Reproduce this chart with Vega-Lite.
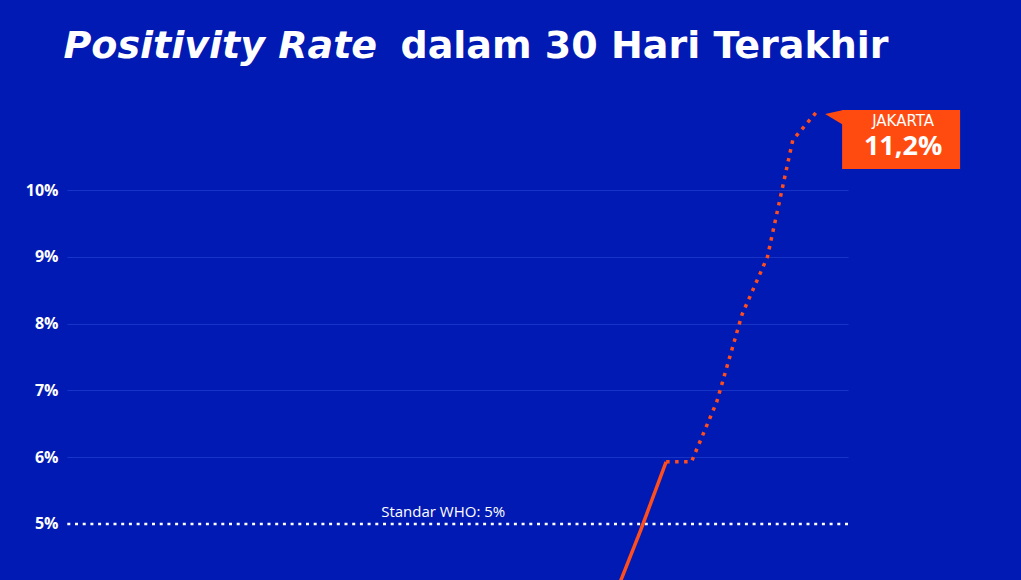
{
  "$schema": "https://vega.github.io/schema/vega-lite/v6.json",
  "width": 781,
  "height": 490,
  "autosize": {"type": "none"},
  "padding": {"left": 67, "top": 90, "right": 173, "bottom": 0},
  "background": "#011AB4",
  "config": {"view": {"stroke": null}, "font": "Open Sans"},
  "datasets": {
    "series": [
      {"day": 22, "v": 3.95, "part": "solid"},
      {"day": 23, "v": 4.91, "part": "solid"},
      {"day": 24, "v": 5.93, "part": "solid"},
      {"day": 24, "v": 5.93, "part": "dotted"},
      {"day": 25, "v": 5.93, "part": "dotted"},
      {"day": 26, "v": 6.83, "part": "dotted"},
      {"day": 27, "v": 8.14, "part": "dotted"},
      {"day": 28, "v": 9.0, "part": "dotted"},
      {"day": 29, "v": 10.75, "part": "dotted"},
      {"day": 30, "v": 11.2, "part": "dotted"}
    ],
    "who": [{"v": 5, "label": "Standar WHO: 5%"}],
    "last": [{"day": 30, "v": 11.2, "city": "JAKARTA", "label": "11,2%"}]
  },
  "layer": [
    {
      "data": {"name": "who"},
      "mark": {"type": "rule", "color": "white", "strokeWidth": 2.5, "strokeDash": [3, 4.7], "strokeCap": "butt"},
      "encoding": {
        "y": {
          "field": "v",
          "type": "quantitative",
          "scale": {"domain": [4.16, 11.5], "nice": false, "zero": false},
          "axis": {
            "values": [5, 6, 7, 8, 9, 10],
            "labelExpr": "datum.value + '%'",
            "labelFontSize": 16,
            "labelFontWeight": "bold",
            "labelColor": "white",
            "labelPadding": 9,
            "ticks": false,
            "domain": false,
            "gridColor": "#1634C6",
            "gridWidth": 1,
            "gridOpacity": {"condition": {"test": "datum.value === 5", "value": 0}, "value": 1},
            "title": "Positivity Rate",
            "titleFont": "DejaVu Sans",
            "titleAngle": 0,
            "titleX": -4,
            "titleY": -33,
            "titleAlign": "left",
            "titleBaseline": "alphabetic",
            "titleFontSize": 38,
            "titleFontStyle": "italic",
            "titleFontWeight": "bold",
            "titleColor": "white"
          }
        }
      }
    },
    {
      "data": {"name": "who"},
      "mark": {"type": "text", "color": "white", "fontSize": 15, "align": "center", "baseline": "alphabetic", "yOffset": -7},
      "encoding": {
        "x": {"datum": 15.2, "type": "quantitative"},
        "y": {"field": "v", "type": "quantitative"},
        "text": {"field": "label"}
      }
    },
    {
      "data": {"name": "series"},
      "mark": {"type": "line", "color": "#FF4E1C", "strokeWidth": 3.5, "strokeCap": "butt", "clip": true},
      "encoding": {
        "x": {
          "field": "day",
          "type": "quantitative",
          "scale": {"domain": [0.35, 31.18], "nice": false, "zero": false},
          "axis": {
            "orient": "top",
            "labels": false,
            "ticks": false,
            "domain": false,
            "grid": false,
            "title": "dalam 30 Hari Terakhir",
            "titleFont": "DejaVu Sans",
            "titleX": 333,
            "titleY": -33,
            "titleAlign": "left",
            "titleBaseline": "alphabetic",
            "titleFontSize": 38,
            "titleFontWeight": "bold",
            "titleColor": "white"
          }
        },
        "y": {"field": "v", "type": "quantitative"},
        "detail": {"field": "part"},
        "strokeDash": {
          "field": "part",
          "type": "nominal",
          "scale": {"domain": ["solid", "dotted"], "range": [[1, 0], [3.5, 5.5]]},
          "legend": null
        }
      }
    },
    {
      "data": {"name": "last"},
      "mark": {"type": "rect", "color": "#FF4B10", "xOffset": 24, "x2Offset": 142, "yOffset": 0, "y2Offset": 59},
      "encoding": {
        "x": {"field": "day", "type": "quantitative"},
        "x2": {"field": "day"},
        "y": {"field": "v", "type": "quantitative"},
        "y2": {"field": "v"}
      }
    },
    {
      "data": {"name": "last"},
      "mark": {"type": "point", "shape": "M -1 -0.41 L 1.15 -0.88 L 1.15 0.88 Z", "filled": true, "opacity": 1, "color": "#FF4B10", "size": 289, "xOffset": 15.5, "yOffset": 7.5},
      "encoding": {
        "x": {"field": "day", "type": "quantitative"},
        "y": {"field": "v", "type": "quantitative"}
      }
    },
    {
      "data": {"name": "last"},
      "mark": {"type": "text", "color": "white", "font": "DejaVu Sans", "fontSize": 15, "align": "center", "baseline": "alphabetic", "xOffset": 85, "yOffset": 16},
      "encoding": {
        "x": {"field": "day", "type": "quantitative"},
        "y": {"field": "v", "type": "quantitative"},
        "text": {"field": "city"}
      }
    },
    {
      "data": {"name": "last"},
      "mark": {"type": "text", "color": "white", "fontSize": 27, "fontWeight": "bold", "align": "center", "baseline": "alphabetic", "xOffset": 85, "yOffset": 45},
      "encoding": {
        "x": {"field": "day", "type": "quantitative"},
        "y": {"field": "v", "type": "quantitative"},
        "text": {"field": "label"}
      }
    }
  ]
}
